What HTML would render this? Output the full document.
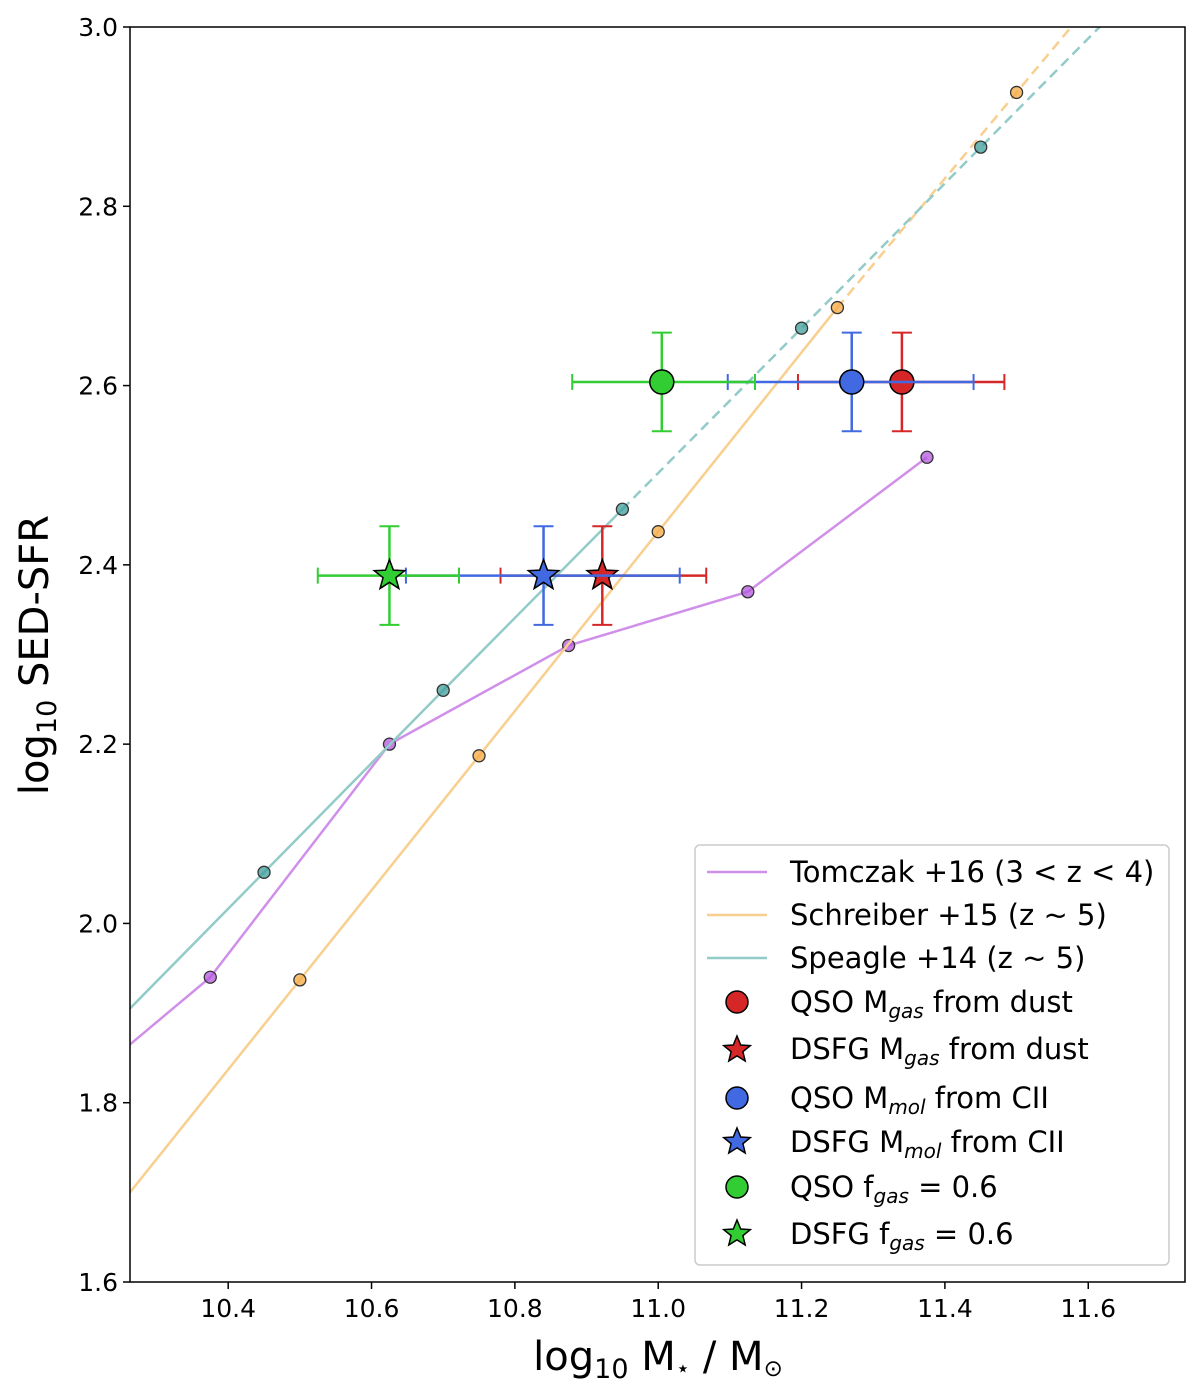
<!DOCTYPE html>
<html><head><meta charset="utf-8"><style>
html,body{margin:0;padding:0;background:#fff;}
svg text{font-family:"DejaVu Sans","Liberation Sans",sans-serif;}
</style></head><body>
<svg id="chart" width="1200" height="1395" viewBox="0 0 1200 1395" xmlns="http://www.w3.org/2000/svg">
<g id="marks"></g>
<g id="axes"></g>
<g id="legend"></g>
</svg>
<script>
const tomX=[10.375,10.625,10.875,11.125,11.375];
const tomY=[1.94,2.20,2.31,2.37,2.52];
const schX=[10.5,10.75,11.0,11.25,11.5];
const schY=[1.937,2.187,2.437,2.687,2.927];
const speX=[10.45,10.7,10.95,11.2,11.45];
const speY=[2.057,2.26,2.462,2.664,2.866];
const ptNames=['qso-dust','dsfg-dust','qso-cii','dsfg-cii','qso-fgas','dsfg-fgas'];
const ptX=[11.34,10.922,11.27,10.84,11.005,10.625];
const ptY=[2.604,2.388,2.604,2.388,2.604,2.388];
const ptXlo=[11.195,10.78,11.097,10.648,10.88,10.525];
const ptXhi=[11.483,11.067,11.44,11.03,11.135,10.722];
const ptYerr=[0.055,0.055,0.055,0.055,0.055,0.055];
const ptColor=['#d62728','#d62728','#4169e1','#4169e1','#32cd32','#32cd32'];
const ptShape=['circle','star','circle','star','circle','star'];
const xTicks=[10.4,10.6,10.8,11.0,11.2,11.4,11.6];
const yTicks=[1.6,1.8,2.0,2.2,2.4,2.6,2.8,3.0];

const L=130,R=1185,T=27,B=1282,X0=10.263,X1=11.735,Y0=1.6,Y1=3.0;
const sx=v=>L+(v-X0)/(X1-X0)*(R-L);
const sy=v=>B-(v-Y0)/(Y1-Y0)*(B-T);
const NS='http://www.w3.org/2000/svg';
function mk(p,tag,a){const e=document.createElementNS(NS,tag);for(const k in a)e.setAttribute(k,a[k]);p.appendChild(e);return e;}
const M=document.getElementById('marks'),A=document.getElementById('axes');
const clip=mk(document.getElementById('chart'),'clipPath',{id:'cp'});mk(clip,'rect',{x:L,y:T,width:R-L,height:B-T});
M.setAttribute('clip-path','url(#cp)');
function lin(xs,ys,x){const s=(ys[1]-ys[0])/(xs[1]-xs[0]);return ys[0]+(x-xs[0])*s;}
function linEnd(xs,ys,x){const n=xs.length;const s=(ys[n-1]-ys[n-2])/(xs[n-1]-xs[n-2]);return ys[n-1]+(x-xs[n-1])*s;}
function series(xs,ys,col,solidN,name,extL,dotCol){
  let sol=[];
  if(extL){sol.push([X0,extL]);}
  for(let i=0;i<solidN;i++)sol.push([xs[i],ys[i]]);
  let p=mk(M,'polyline',{points:sol.map(q=>sx(q[0])+','+sy(q[1])).join(' '),fill:'none',stroke:col,'stroke-width':2.5});
  
  if(solidN<xs.length){
    const dp=xs.slice(solidN-1).map((x,i)=>[x,ys[solidN-1+i]]);
    dp.push([11.7,linEnd(xs,ys,11.7)]);
    let d=mk(M,'polyline',{points:dp.map(q=>sx(q[0])+','+sy(q[1])).join(' '),fill:'none',stroke:col,'stroke-width':2.5,'stroke-dasharray':'10,6'});
    
  }
  xs.forEach((x,i)=>{let c=mk(M,'circle',{cx:sx(x),cy:sy(ys[i]),r:6,fill:dotCol,'fill-opacity':0.75,stroke:'#333','stroke-width':1.3});
    });
}
series(tomX,tomY,'#d090ea',5,'tomczak',1.865,'#b455dd');
series(schX,schY,'#f9cf8f',4,'schreiber',lin(schX,schY,X0),'#f5a840');
series(speX,speY,'#92cbc8',3,'speagle',lin(speX,speY,X0),'#3d9e99');
function star(cx,cy,r){let s='';for(let i=0;i<10;i++){const rr=i%2?r*0.42:r;const a=-Math.PI/2+i*Math.PI/5;s+=(cx+rr*Math.cos(a))+','+(cy+rr*Math.sin(a))+' ';}return s;}
for(let i=0;i<ptX.length;i++){
  const g=mk(M,'g',{});
  const c=ptColor[i],x=sx(ptX[i]),y=sy(ptY[i]),yl=sy(ptY[i]-ptYerr[i]),yh=sy(ptY[i]+ptYerr[i]),xl=sx(ptXlo[i]),xh=sx(ptXhi[i]);
  mk(g,'line',{x1:xl,x2:xh,y1:y,y2:y,stroke:c,'stroke-width':2.5});
  mk(g,'line',{x1:x,x2:x,y1:yl,y2:yh,stroke:c,'stroke-width':2.5});
  [xl,xh].forEach(v=>mk(g,'line',{x1:v,x2:v,y1:y-8,y2:y+8,stroke:c,'stroke-width':2}));
  [yl,yh].forEach(v=>mk(g,'line',{x1:x-10,x2:x+10,y1:v,y2:v,stroke:c,'stroke-width':2}));
  if(ptShape[i]=='circle')mk(g,'circle',{cx:x,cy:y,r:12,fill:c,stroke:'#000','stroke-width':1.5});
  else mk(g,'polygon',{points:star(x,y,16),fill:c,stroke:'#000','stroke-width':1.5});
}
let fr=mk(A,'rect',{x:L,y:T,width:R-L,height:B-T,fill:'none',stroke:'#000','stroke-width':1.5});

xTicks.forEach(v=>{mk(A,'line',{x1:sx(v),x2:sx(v),y1:B,y2:B+7,stroke:'#000','stroke-width':1.5});
  let t=mk(A,'text',{x:sx(v),y:B+35,'text-anchor':'middle','font-size':25});t.textContent=v.toFixed(1);
  });
yTicks.forEach(v=>{mk(A,'line',{x1:L-7,x2:L,y1:sy(v),y2:sy(v),stroke:'#000','stroke-width':1.5});
  let t=mk(A,'text',{x:L-12,y:sy(v)+9,'text-anchor':'end','font-size':25});t.textContent=v.toFixed(1);
  });
</script>
<svg width="1200" height="1395" style="position:absolute;left:0;top:0" xmlns="http://www.w3.org/2000/svg">
<text x="658" y="1370" text-anchor="middle" font-size="40" font-family="DejaVu Sans, sans-serif">log<tspan font-size="27" dy="8">10</tspan><tspan dy="-8"> M</tspan><tspan font-size="23" dy="6">⋆</tspan><tspan dy="-6"> / M</tspan><tspan font-size="23" dy="6">⊙</tspan></text>
<text transform="translate(48,655) rotate(-90)" text-anchor="middle" font-size="40" font-family="DejaVu Sans, sans-serif">log<tspan font-size="27" dy="8">10</tspan><tspan dy="-8"> SED-SFR</tspan></text>
<g font-family="DejaVu Sans, sans-serif" font-size="29">
<rect x="695" y="845" width="474" height="420" rx="5" fill="#fff" fill-opacity="0.85" stroke="#ccc" stroke-width="1.5"/>
<g><line x1="707" x2="767" y1="872" y2="872" stroke="#d090ea" stroke-width="2.5"/><text x="790" y="882">Tomczak +16 (3 &lt; z &lt; 4)</text></g>
<g><line x1="707" x2="767" y1="915" y2="915" stroke="#f9cf8f" stroke-width="2.5"/><text x="790" y="925">Schreiber +15 (z ~ 5)</text></g>
<g><line x1="707" x2="767" y1="958" y2="958" stroke="#92cbc8" stroke-width="2.5"/><text x="790" y="968">Speagle +14 (z ~ 5)</text></g>
<g><circle cx="737" cy="1002" r="11" fill="#d62728" stroke="#000" stroke-width="1.5"/><text x="790" y="1012">QSO M<tspan font-size="20" font-style="italic" dy="6">gas</tspan><tspan dy="-6"> from dust</tspan></text></g>
<g><polygon points="737,1036 740.7,1045 750.3,1045.6 742.9,1051.7 745.2,1061 737,1055.9 728.8,1061 731.1,1051.7 723.7,1045.6 733.3,1045" fill="#d62728" stroke="#000" stroke-width="1.5"/><text x="790" y="1059">DSFG M<tspan font-size="20" font-style="italic" dy="6">gas</tspan><tspan dy="-6"> from dust</tspan></text></g>
<g><circle cx="737" cy="1098" r="11" fill="#4169e1" stroke="#000" stroke-width="1.5"/><text x="790" y="1108">QSO M<tspan font-size="20" font-style="italic" dy="6">mol</tspan><tspan dy="-6"> from CII</tspan></text></g>
<g><polygon points="737,1128 740.7,1137 750.3,1137.6 742.9,1143.7 745.2,1153 737,1147.9 728.8,1153 731.1,1143.7 723.7,1137.6 733.3,1137" fill="#4169e1" stroke="#000" stroke-width="1.5"/><text x="790" y="1152">DSFG M<tspan font-size="20" font-style="italic" dy="6">mol</tspan><tspan dy="-6"> from CII</tspan></text></g>
<g><circle cx="737" cy="1187" r="11" fill="#32cd32" stroke="#000" stroke-width="1.5"/><text x="790" y="1197">QSO f<tspan font-size="20" font-style="italic" dy="6">gas</tspan><tspan dy="-6"> = 0.6</tspan></text></g>
<g><polygon points="737,1220 740.7,1229 750.3,1229.6 742.9,1235.7 745.2,1245 737,1239.9 728.8,1245 731.1,1235.7 723.7,1229.6 733.3,1229" fill="#32cd32" stroke="#000" stroke-width="1.5"/><text x="790" y="1244">DSFG f<tspan font-size="20" font-style="italic" dy="6">gas</tspan><tspan dy="-6"> = 0.6</tspan></text></g>
</g>
</svg>
</body></html>
